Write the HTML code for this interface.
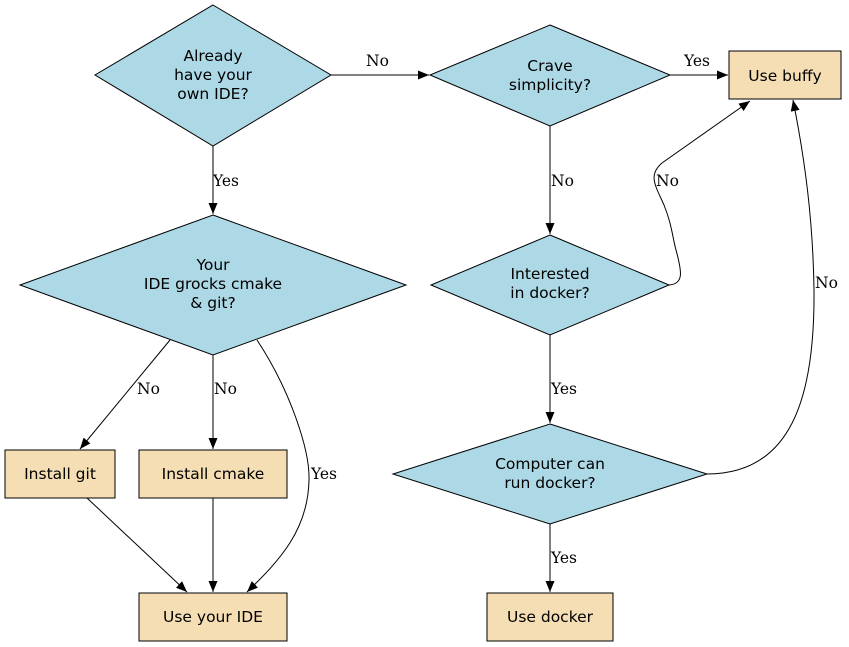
<!DOCTYPE html>
<html><head><meta charset="utf-8"><style>
html,body{margin:0;padding:0;background:#fff;}
svg{display:block;}
.n{font-family:"DejaVu Sans","Liberation Sans",sans-serif;font-size:15.5px;fill:#000;text-anchor:middle;}
.e{font-family:"DejaVu Serif","Liberation Serif",serif;font-size:15.5px;fill:#000;}
.d{fill:#add8e6;stroke:#000;stroke-width:1;}
.b{fill:#f5deb3;stroke:#000;stroke-width:1;}
.l{fill:none;stroke:#000;stroke-width:1;}
</style></head><body>
<svg width="849" height="647" viewBox="0 0 849 647" xmlns="http://www.w3.org/2000/svg">
<defs><marker id="a" markerWidth="11" markerHeight="9" refX="11" refY="4.5" orient="auto" markerUnits="userSpaceOnUse"><path d="M0,0 L11,4.5 L0,9 z" fill="#000"/></marker></defs>
<polygon class="d" points="213,5 331,75 213,146 95,75"/>
<text class="n" x="213" y="61">Already</text><text class="n" x="213" y="80">have your</text><text class="n" x="213" y="99">own IDE?</text>
<polygon class="d" points="550,25 670,75 550,126 430,75"/>
<text class="n" x="550" y="71">Crave</text><text class="n" x="550" y="90">simplicity?</text>
<rect class="b" x="729" y="51" width="112" height="48"/>
<text class="n" x="785" y="81">Use buffy</text>
<polygon class="d" points="213,215 406,285 213,355 20,285"/>
<text class="n" x="213" y="270">Your</text><text class="n" x="213" y="289">IDE grocks cmake</text><text class="n" x="213" y="308">&amp; git?</text>
<polygon class="d" points="550,235 669,285 550,335 431,285"/>
<text class="n" x="550" y="279">Interested</text><text class="n" x="550" y="298">in docker?</text>
<polygon class="d" points="550,424 707,474 550,524 393,474"/>
<text class="n" x="550" y="469">Computer can</text><text class="n" x="550" y="488">run docker?</text>
<rect class="b" x="5" y="450" width="110" height="48"/>
<text class="n" x="60" y="479">Install git</text>
<rect class="b" x="139" y="450" width="148" height="48"/>
<text class="n" x="213" y="479">Install cmake</text>
<rect class="b" x="139" y="593" width="148" height="48"/>
<text class="n" x="213" y="622">Use your IDE</text>
<rect class="b" x="487" y="593" width="126" height="48"/>
<text class="n" x="550" y="622">Use docker</text>
<path class="l" d="M331,75 L429,75" marker-end="url(#a)"/><text class="e" x="366" y="66">No</text>
<path class="l" d="M670,75 L728,75" marker-end="url(#a)"/><text class="e" x="684" y="66">Yes</text>
<path class="l" d="M213,146 L213,214" marker-end="url(#a)"/><text class="e" x="213" y="186">Yes</text>
<path class="l" d="M550,126 L550,234" marker-end="url(#a)"/><text class="e" x="551" y="186">No</text>
<path class="l" d="M669,285 C684,284 682,272 676,250 C672,235 672,225 664,205 C655,185 648,175 662,163 L750,101" marker-end="url(#a)"/><text class="e" x="656" y="186">No</text>
<path class="l" d="M550,335 L550,423" marker-end="url(#a)"/><text class="e" x="551" y="394">Yes</text>
<path class="l" d="M707,474 C790,474 815,400 814,290 C813,220 805,160 793,100" marker-end="url(#a)"/><text class="e" x="815" y="288">No</text>
<path class="l" d="M550,524 L550,592" marker-end="url(#a)"/><text class="e" x="551" y="563">Yes</text>
<path class="l" d="M170,340 L80,449" marker-end="url(#a)"/><text class="e" x="137" y="394">No</text>
<path class="l" d="M213,355 L213,449" marker-end="url(#a)"/><text class="e" x="214" y="394">No</text>
<path class="l" d="M257,340 C290,390 310,450 309,480 C308,530 280,560 247,592" marker-end="url(#a)"/><text class="e" x="311" y="479">Yes</text>
<path class="l" d="M87,498 L187,592" marker-end="url(#a)"/>
<path class="l" d="M213,498 L213,592" marker-end="url(#a)"/>
</svg>
</body></html>
